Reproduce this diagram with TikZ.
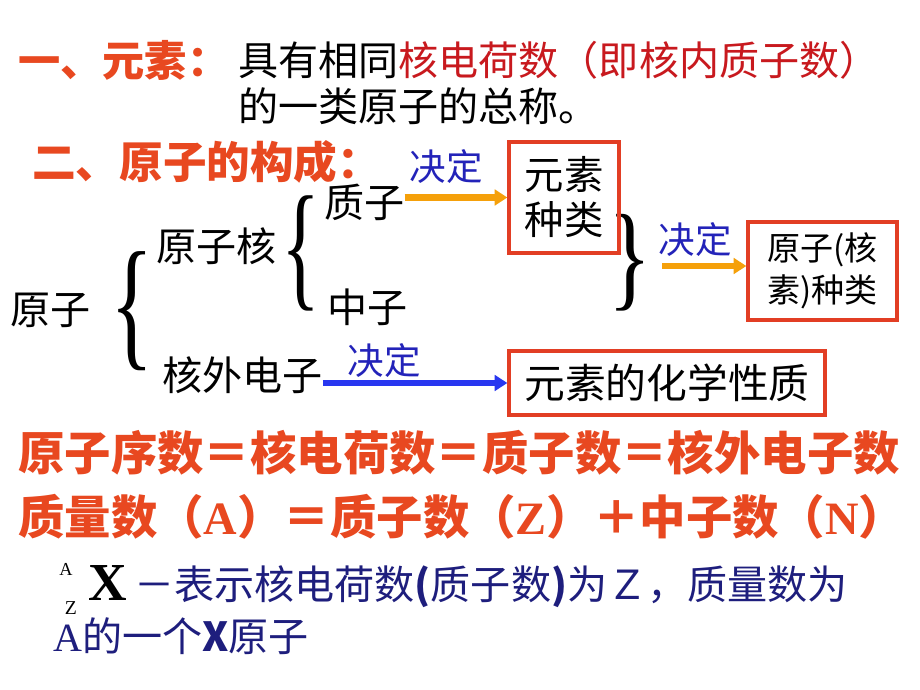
\documentclass[tikz,border=0pt]{standalone}
\usepackage{fontspec}
\setmainfont{Noto Sans CJK SC}
\newfontfamily\timesfont{Liberation Serif}
\usetikzlibrary{arrows.meta}

\definecolor{headred}{RGB}{232,72,32}
\definecolor{termred}{RGB}{200,25,30}
\definecolor{boxred}{RGB}{226,62,36}
\definecolor{decblue}{RGB}{35,35,185}
\definecolor{arrblue}{RGB}{40,55,240}
\definecolor{arrorange}{RGB}{245,160,10}
\definecolor{navy}{RGB}{30,30,125}

\begin{document}
\begin{tikzpicture}[x=0.025cm, y=-0.025cm,
    every node/.style={inner sep=0pt},
    head/.style={font=\fontsize{30pt}{36pt}\selectfont\bfseries, text=headred, anchor=west},
    txt/.style={font=\fontsize{28.5pt}{34pt}\selectfont, anchor=west},
    dec/.style={font=\fontsize{26pt}{30pt}\selectfont, text=decblue},
    kindbox/.style={draw=boxred, line width=2.3pt, align=center},
    orangearr/.style={draw=arrorange, line width=4.3pt, -{Triangle[length=9pt,width=11pt]}},
    bluearr/.style={draw=arrblue, line width=4.3pt, -{Triangle[length=9pt,width=11pt]}},
    bracenode/.style={font=\timesfont\fontsize{64pt}{64pt}\selectfont}]
    \fill[white] (0,0) rectangle (920,690);
    \useasboundingbox (0,0) rectangle (920,690);

    % Definition of element
    \node[head] (elemhead) at (18,60) {一、元素：};
    \node[txt] (elemdef) at (238,60) {具有相同\textcolor{termred}{核电荷数（即核内质子数）}};
    \node[txt] (elemdef2) at (238,106) {的一类原子的总称。};

    % Structure of atom
    \node[head, font=\fontsize{31pt}{36pt}\selectfont\bfseries] (atomhead) at (32,162) {二、原子的构成：};

    \node[txt] (atom) at (10,310) {原子};
    \node[txt] (nucleus) at (156,246) {原子核};
    \node[txt] (proton) at (324,202) {质子};
    \node[txt] (neutron) at (327,307) {中子};
    \node[txt] (electron) at (162,375) {核外电子};

    \node[bracenode, yscale=1.6] (atombrace) at (132,311) {\{};
    \node[bracenode, yscale=1.55, xscale=0.9] (nucbrace) at (301,253) {\{};
    \node[bracenode, yscale=1.3] (kindbrace) at (630,263) {\}};
    \coordinate (rtip) at (662,266);

    \node[kindbox, minimum width=2.75cm, minimum height=2.78cm, font=\fontsize{28pt}{32pt}\selectfont] (kind) at (564,197.5) {元素\\种类};
    \node[kindbox, minimum width=3.725cm, minimum height=2.45cm, font=\fontsize{23.5pt}{30pt}\selectfont] (isokind) at (822.5,271) {原子(核\\素)种类};
    \node[kindbox, minimum width=7.9cm, minimum height=1.6cm, font=\fontsize{29pt}{34pt}\selectfont] (chem) at (667,383) {元素的化学性质};

    \node[dec] (dec1) at (446,167) {决定};
    \node[dec] (dec2) at (695,240) {决定};
    \node[dec] (dec3) at (384,361) {决定};

    % Edges
    \draw[orangearr] (proton.east |- kind.west) -- (kind.west);
    \draw[orangearr] (rtip) -- (rtip -| isokind.west);
    \draw[bluearr] (electron.east |- chem.west) -- (chem.west);

    % Relations
    \node[head, font=\fontsize{33pt}{38pt}\selectfont\bfseries] (rule1) at (18,453) {原子序数＝核电荷数＝质子数＝核外电子数};
    \node[head, font=\fontsize{33pt}{38pt}\selectfont\bfseries] (rule2) at (18,517) {质量数（{\timesfont A}）＝质子数（{\timesfont Z}）＋中子数（{\timesfont N}）};

    % Nuclide notation
    \node[font=\timesfont\fontsize{13pt}{15pt}\selectfont] (massA) at (66,569) {A};
    \node[font=\timesfont\fontsize{14pt}{16pt}\selectfont] (numZ) at (71,608) {Z};
    \node[font=\timesfont\fontsize{38pt}{40pt}\selectfont\bfseries] (symX) at (108,583) {X};
    \node[txt, text=navy] (meaning) at (134,587) {－表示核电荷数{\bfseries (}质子数{\bfseries )}为Ｚ，质量数为};
    \node[txt, text=navy] (meaning2) at (53,636) {{\timesfont A}的一个{\bfseries X}原子};
\end{tikzpicture}
\end{document}
